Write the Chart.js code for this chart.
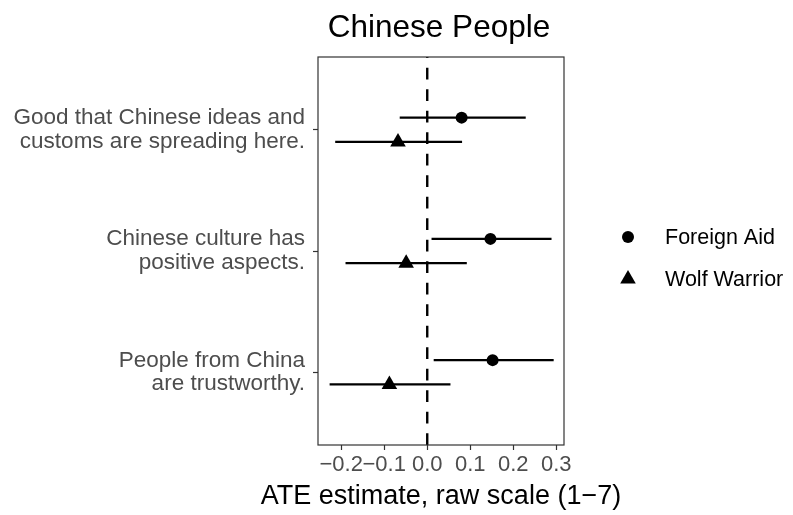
<!DOCTYPE html>
<html>
<head>
<meta charset="utf-8">
<script src="https://cdn.jsdelivr.net/npm/chart.js"></script>
<style>
	body { margin: 0; background: #fff; }
	canvas { display: block; }
</style>
</head>
<body>
<canvas id="ateChart" width="793" height="515"></canvas>
<script>
// survey items, top to bottom
const categories = [
	['Good that Chinese ideas and', 'customs are spreading here.'],
	['Chinese culture has', 'positive aspects.'],
	['People from China', 'are trustworthy.'],
]
const xTicks = [-0.2, -0.1, 0.0, 0.1, 0.2, 0.3]

// Foreign Aid treatment
const foreignAidEst = [0.080, 0.147, 0.152]
const foreignAidLow = [-0.064, 0.010, 0.015]
const foreignAidHigh = [0.229, 0.289, 0.294]

// Wolf Warrior treatment
const wolfWarriorEst = [-0.068, -0.049, -0.088]
const wolfWarriorLow = [-0.214, -0.190, -0.227]
const wolfWarriorHigh = [0.081, 0.092, 0.054]

const FONT = "'Liberation Sans', Arial, Helvetica, sans-serif"
const dodge = 0.1

const series = [
	{ label: 'Foreign Aid', est: foreignAidEst, low: foreignAidLow, high: foreignAidHigh, shift: -dodge, style: 'circle', radius: 6 },
	{ label: 'Wolf Warrior', est: wolfWarriorEst, low: wolfWarriorLow, high: wolfWarriorHigh, shift: dodge, style: 'triangle', radius: 9 },
]

// error bars, zero line, panel border, titles and legend
const decorations = {
	id: 'decorations',
	beforeDatasetsDraw(chart) {
		const { ctx, chartArea, scales: { x, y } } = chart
		ctx.save()
		// dashed zero line, drawn bottom to top like ggplot
		ctx.strokeStyle = '#000'
		ctx.lineWidth = 2.4
		ctx.setLineDash([11.7, 9.8])
		const x0 = x.getPixelForValue(0)
		ctx.beginPath()
		ctx.moveTo(x0, chartArea.bottom)
		ctx.lineTo(x0, chartArea.top)
		ctx.stroke()
		ctx.setLineDash([])
		// confidence intervals
		series.forEach(s => {
			s.low.forEach((lo, i) => {
				const py = y.getPixelForValue(i + 1 + s.shift)
				ctx.beginPath()
				ctx.moveTo(x.getPixelForValue(lo), py)
				ctx.lineTo(x.getPixelForValue(s.high[i]), py)
				ctx.stroke()
			})
		})
		ctx.restore()
	},
	afterDraw(chart) {
		const { ctx, chartArea } = chart
		const midX = (chartArea.left + chartArea.right) / 2
		ctx.save()
		ctx.strokeStyle = '#333'
		ctx.lineWidth = 1.2
		ctx.strokeRect(chartArea.left, chartArea.top, chartArea.right - chartArea.left, chartArea.bottom - chartArea.top)

		ctx.fillStyle = '#000'
		ctx.textAlign = 'center'
		ctx.textBaseline = 'middle'
		ctx.font = '31.5px ' + FONT
		ctx.fillText('Chinese People', midX - 2, 28)

		// x axis title (drawn here so it is not squeezed to the panel width)
		ctx.font = '27px ' + FONT
		ctx.fillText('ATE estimate, raw scale (1\u22127)', midX, 497)

		// legend
		ctx.font = '21.5px ' + FONT
		ctx.textAlign = 'left'
		const legendY = [237, 279]
		series.forEach((s, k) => {
			const cx = 628
			const cy = legendY[k]
			ctx.beginPath()
			if (s.style === 'circle') {
				ctx.arc(cx, cy, 6, 0, Math.PI * 2)
			} else {
				const r = 9
				ctx.moveTo(cx, cy - r)
				ctx.lineTo(cx + r * Math.sin(Math.PI * 2 / 3), cy - r * Math.cos(Math.PI * 2 / 3))
				ctx.lineTo(cx + r * Math.sin(Math.PI * 4 / 3), cy - r * Math.cos(Math.PI * 4 / 3))
				ctx.closePath()
			}
			ctx.fill()
			ctx.fillText(s.label, 665, cy + 1)
		})
		ctx.restore()
	},
}

const ctx = document.getElementById('ateChart').getContext('2d')
const ateChart = new Chart(ctx, {
	type: 'scatter',
	data: {
		datasets: series.map(s => ({
			label: s.label,
			data: s.est.map((v, i) => ({ x: v, y: i + 1 + s.shift })),
			pointStyle: s.style,
			pointRadius: s.radius,
			pointHoverRadius: s.radius,
			backgroundColor: '#000',
			borderColor: '#000',
			borderWidth: 0,
		})),
	},
	options: {
		responsive: false,
		animation: false,
		layout: { padding: { top: 57, right: 229, left: 0, bottom: 0 } },
		plugins: {
			legend: { display: false },
			tooltip: { enabled: false },
		},
		scales: {
			x: {
				type: 'linear',
				min: -0.254,
				max: 0.318,
				afterBuildTicks: scale => {
					scale.ticks = xTicks.map(v => ({ value: v }))
				},
				afterFit: scale => {
					scale.height = 70
				},
				grid: { drawOnChartArea: false, drawTicks: true, tickLength: 5, tickColor: '#333', tickWidth: 1.2 },
				border: { display: false },
				ticks: {
					autoSkip: false,
					maxRotation: 0,
					padding: 2,
					color: '#4d4d4d',
					font: { family: FONT, size: 22 },
					callback: v => v.toFixed(1).replace('-', '\u2212'),
				},
			},
			y: {
				type: 'linear',
				min: 0.4,
				max: 3.6,
				reverse: true,
				afterBuildTicks: scale => {
					scale.ticks = categories.map((c, i) => ({ value: i + 1 }))
				},
				afterFit: scale => {
					scale.width = 318
				},
				grid: { drawOnChartArea: false, drawTicks: true, tickLength: 5, tickColor: '#333', tickWidth: 1.2 },
				border: { display: false },
				ticks: {
					padding: 8,
					color: '#4d4d4d',
					font: { family: FONT, size: 22.5, lineHeight: '23.5px' },
					callback: v => categories[Math.round(v) - 1],
				},
			},
		},
	},
	plugins: [decorations],
})
</script>
</body>
</html>
